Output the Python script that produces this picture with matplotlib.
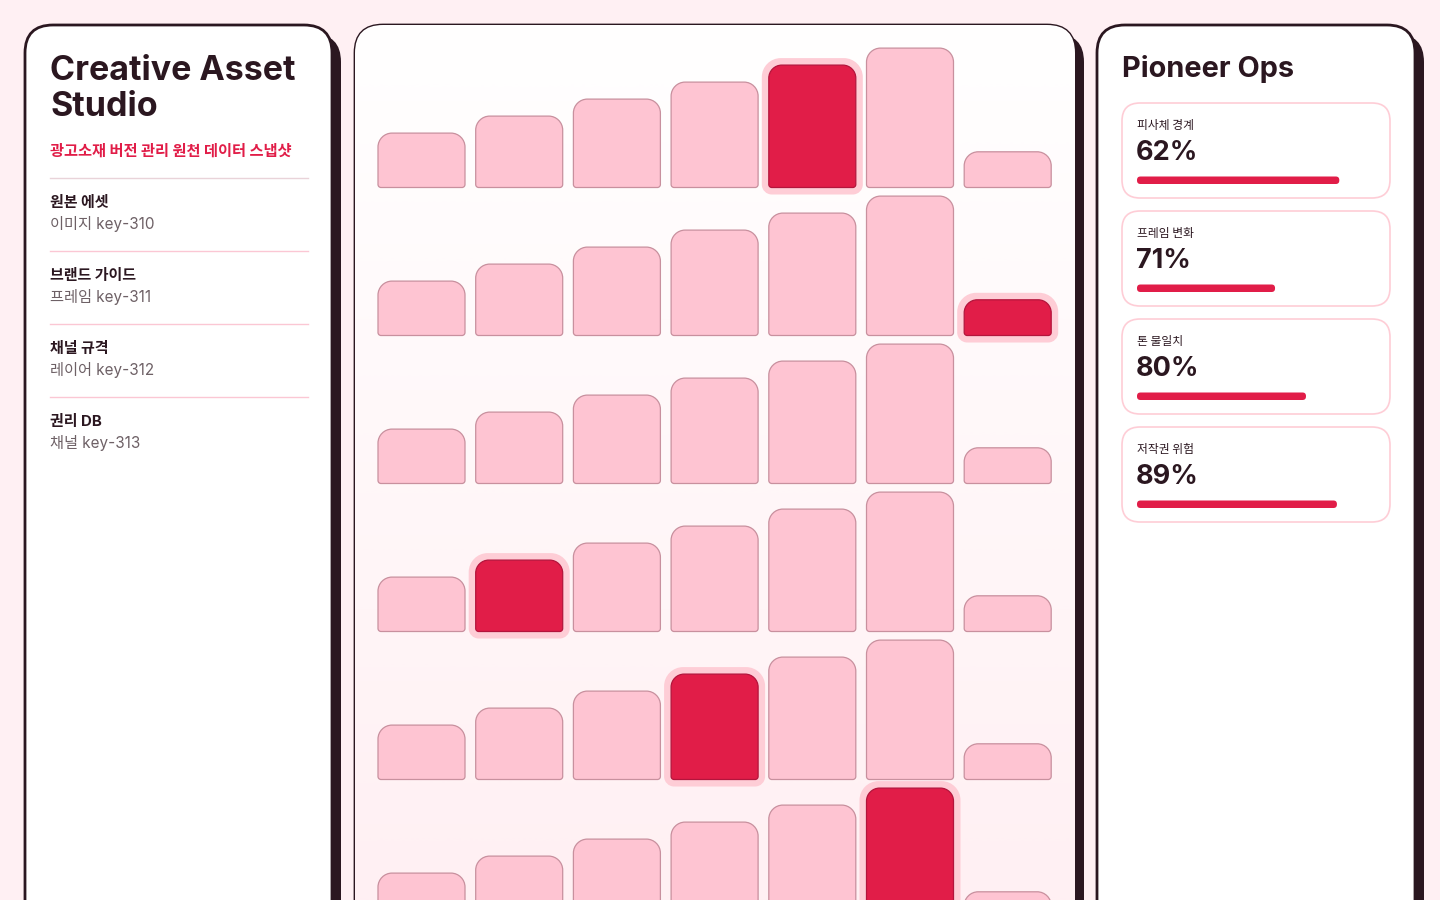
import numpy as np
import matplotlib
matplotlib.use("Agg")
import matplotlib.pyplot as plt
from matplotlib.patches import FancyBboxPatch, PathPatch
from matplotlib.path import Path

# data
bar_values = [32, 42, 52, 62, 72, 82, 21]          # same profile in every row
highlight_index = [4, 6, None, 1, 3, 5]            # highlighted bar per row
list_titles = ["원본 에셋", "브랜드 가이드", "채널 규격", "권리 DB"]
list_subs = ["이미지 key-310", "프레임 key-311", "레이어 key-312", "채널 key-313"]
metric_labels = ["피사체 경계", "프레임 변화", "톤 불일치", "저작권 위험"]
metric_pcts = [62, 71, 80, 89]
metric_bars = [85, 58, 71, 84]                      # bar fill, % of track

DARK = "#2b1720"
RED = "#e11d48"
PINK = "#fec4d2"
HALO = "#fecdd6"
EDGE = "#c8909e"
BG = "#fff0f3"
LINE = "#fbc7d4"
GRAY = "#6e6166"
FONT = ["Inter", "Noto Sans CJK KR", "DejaVu Sans"]
KFONT = ["Noto Sans CJK KR", "DejaVu Sans"]

fig = plt.figure(figsize=(14.4, 9), dpi=100)
fig.patch.set_facecolor(BG)
ax = fig.add_axes([0, 0, 1, 1])
ax.set_xlim(0, 1440)
ax.set_ylim(900, 0)
ax.axis("off")


def panel(x0, x1, y0, y1, r=28, off=9):
    sh = FancyBboxPatch((x0 + off, y0 + off), x1 - x0, y1 - y0,
                        boxstyle=f"round,pad=0,rounding_size={r}",
                        fc=DARK, ec=DARK, lw=0, zorder=1)
    ax.add_patch(sh)
    p = FancyBboxPatch((x0, y0), x1 - x0, y1 - y0,
                       boxstyle=f"round,pad=0,rounding_size={r}",
                       fc="white", ec=DARK, lw=2, zorder=2)
    ax.add_patch(p)
    return p


def bar_path(x0, x1, yb, yt, rt, rb):
    k = 0.5523
    verts = [
        (x0 + rb, yb),
        (x1 - rb, yb),
        (x1 - rb + rb * k, yb), (x1, yb - rb + rb * k), (x1, yb - rb),
        (x1, yt + rt),
        (x1, yt + rt - rt * k), (x1 - rt + rt * k, yt), (x1 - rt, yt),
        (x0 + rt, yt),
        (x0 + rt - rt * k, yt), (x0, yt + rt - rt * k), (x0, yt + rt),
        (x0, yb - rb),
        (x0, yb - rb + rb * k), (x0 + rb - rb * k, yb), (x0 + rb, yb),
        (x0 + rb, yb),
    ]
    codes = [Path.MOVETO, Path.LINETO,
             Path.CURVE4, Path.CURVE4, Path.CURVE4,
             Path.LINETO,
             Path.CURVE4, Path.CURVE4, Path.CURVE4,
             Path.LINETO,
             Path.CURVE4, Path.CURVE4, Path.CURVE4,
             Path.LINETO,
             Path.CURVE4, Path.CURVE4, Path.CURVE4,
             Path.CLOSEPOLY]
    return Path(verts, codes)


# panels
left = panel(25, 332, 25, 960)
center = panel(355, 1075, 25, 960)
right = panel(1097, 1415, 25, 960)

# center gradient background
grad = np.linspace(0, 1, 900).reshape(-1, 1)
cmap = matplotlib.colors.LinearSegmentedColormap.from_list("g", ["#ffffff", "#fff0f3"])
im = ax.imshow(grad, cmap=cmap, extent=(355, 1075, 900, 25), aspect="auto",
               interpolation="bilinear", zorder=2.5)
im.set_clip_path(center)

# bars
scale = 1.7
pitch = 97.7
bw = 87
first_base = 187.5
row_pitch = 148
for r, hi in enumerate(highlight_index):
    yb = first_base + r * row_pitch
    for i, v in enumerate(bar_values):
        x0 = 378 + i * pitch
        h = v * scale
        if i == hi:
            halo = PathPatch(bar_path(x0 - 7, x0 + bw + 7, yb + 7, yb - h - 7, 19, 10),
                             fc=HALO, ec="none", zorder=3)
            ax.add_patch(halo)
            ax.add_patch(PathPatch(bar_path(x0, x0 + bw, yb, yb - h, 13, 3),
                                   fc=RED, ec="#b3153c", lw=0.9, zorder=4))
        else:
            ax.add_patch(PathPatch(bar_path(x0, x0 + bw, yb, yb - h, 14, 3),
                                   fc=PINK, ec=EDGE, lw=0.9, zorder=4))

# left panel text
ax.text(50, 71, "Creative Asset", fontsize=24.5, fontweight="bold", color=DARK,
        family=FONT, va="center", zorder=5)
ax.text(50, 107, "Studio", fontsize=24.5, fontweight="bold", color=DARK,
        family=FONT, va="center", zorder=5)
ax.text(50, 151, "광고소재 버전 관리 원천 데이터 스냅샷", fontsize=11, fontweight="bold",
        color=RED, family=KFONT, va="center", zorder=5)
ax.plot([50, 308], [178, 178], color="#e9d3d9", lw=1, zorder=5)
for k, (t, s) in enumerate(zip(list_titles, list_subs)):
    y = 203 + k * 73
    ax.text(50, y, t, fontsize=10.8, fontweight="bold", color=DARK,
            family=FONT, va="center", zorder=5)
    ax.text(50, y + 21, s, fontsize=11, color=GRAY, family=FONT, va="center", zorder=5)
    if k < len(list_titles) - 1:
        ax.plot([50, 308], [y + 47.5, y + 47.5], color=LINE, lw=1, zorder=5)

# right panel
ax.text(1122, 69, "Pioneer Ops", fontsize=20.8, fontweight="bold", color=DARK,
        family=FONT, va="center", zorder=5)
track = 238
for k, (lab, pct, fill) in enumerate(zip(metric_labels, metric_pcts, metric_bars)):
    y0 = 103 + k * 108
    ax.add_patch(FancyBboxPatch((1122, y0), 268, 95,
                                boxstyle="round,pad=0,rounding_size=18",
                                fc="white", ec=HALO, lw=1.2, zorder=5))
    ax.text(1137, y0 + 23, lab, fontsize=8.5, color=DARK, family=KFONT,
            va="center", zorder=6)
    ax.text(1136, y0 + 50, f"{pct}%", fontsize=19.5, fontweight="bold", color=DARK,
            family=FONT, va="center", zorder=6)
    w = track * fill / 100
    ax.add_patch(FancyBboxPatch((1137, y0 + 73.5), w, 7.5,
                                boxstyle="round,pad=0,rounding_size=3.5",
                                fc=RED, ec="none", zorder=6))

fig.savefig("out.png", dpi=100, facecolor=BG)
